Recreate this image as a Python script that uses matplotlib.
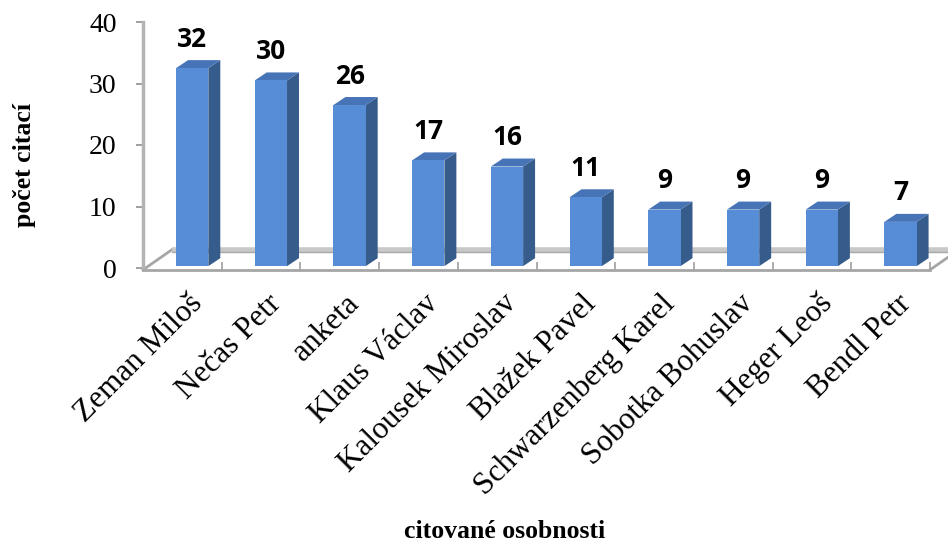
import matplotlib.pyplot as plt
from matplotlib.patches import Polygon

names = ['Zeman Miloš', 'Nečas Petr', 'anketa', 'Klaus Václav', 'Kalousek Miroslav',
         'Blažek Pavel', 'Schwarzenberg Karel', 'Sobotka Bohuslav', 'Heger Leoš', 'Bendl Petr']
counts = [32, 30, 26, 17, 16, 11, 9, 9, 9, 7]
yticks = [0, 10, 20, 30, 40]

serif = 'Liberation Serif'
front_c = '#568dd6'
side_c = '#365c8c'
top_c = '#4774b6'

fig = plt.figure(figsize=(9.48, 5.51), dpi=100)
ax = fig.add_axes([143 / 948, 1 - 268 / 551, 787 / 948, 246 / 551])
ax.set_xlim(-0.5, 9.5)
ax.set_ylim(0, 40)

# 3d-ish depth offsets (data units)
dx, dy = 0.152, 1.3
fdx, fdy = 0.37, 3.0

# floor
ax.plot([-0.5, -0.5 + fdx], [-0.3, fdy], color='#a6a6a6', lw=2, clip_on=False, zorder=1)
ax.plot([-0.5 + fdx, 9.5 + fdx], [fdy, fdy], color='#c8c8c8', lw=4, clip_on=False, zorder=1,
        solid_capstyle='butt')
ax.plot([-0.5 + fdx, 9.5 + fdx], [fdy - 0.35, fdy - 0.35], color='#a8a8a8', lw=1, clip_on=False, zorder=1)
ax.plot([9.5, 9.5 + fdx], [-0.3, fdy], color='#a6a6a6', lw=2, clip_on=False, zorder=1)

# bars
w = 0.41
for i, v in enumerate(counts):
    x0 = i - 0.08
    x1 = x0 + w
    b = 0.3
    t = v + 0.5
    ax.add_patch(Polygon([(x1, b), (x1 + dx, b + dy), (x1 + dx, t + dy), (x1, t)],
                         closed=True, fc=side_c, ec='none', zorder=3))
    ax.add_patch(Polygon([(x0, t), (x1, t), (x1 + dx, t + dy), (x0 + dx, t + dy)],
                         closed=True, fc=top_c, ec='none', zorder=3))
    ax.add_patch(Polygon([(x0, b), (x1, b), (x1, t), (x0, t)],
                         closed=True, fc=front_c, ec='none', zorder=4))
    ax.text(i + 0.125, v + 5.2, str(v), ha='center', va='center', fontsize=19,
            fontweight='bold', family='Open Sans', zorder=5)

# axes styling
for s in ['top', 'right']:
    ax.spines[s].set_visible(False)
ax.spines['left'].set_color('#b4b4b4')
ax.spines['left'].set_linewidth(2.5)
ax.spines['bottom'].set_color('#a6a6a6')
ax.spines['bottom'].set_linewidth(2)
ax.spines['bottom'].set_position(('data', -0.3))
ax.set_yticks(yticks)
ax.set_yticklabels([str(t) for t in yticks], family=serif, fontsize=20)
ax.tick_params(axis='y', length=5, width=1.2, color='#909090', pad=14)
ax.set_xticks([k + 0.5 for k in range(-1, 10)])
ax.set_xticklabels([])
ax.tick_params(axis='x', length=6, width=1.2, color='#a0a0a0', direction='in')

for i, name in enumerate(names):
    ax.text(i + 0.07, -3.4, name, rotation=45, ha='right', va='top', rotation_mode='anchor',
            family=serif, fontsize=22.5)

fig.text(25 / 948, 1 - 165 / 551, 'počet citací', rotation=90, ha='center', va='center',
         family=serif, fontweight='bold', fontsize=18.5)
fig.text(505 / 948, 1 - 532 / 551, 'citované osobnosti', ha='center', va='center',
         family=serif, fontweight='bold', fontsize=18.5)

fig.savefig('out.png', dpi=100)
